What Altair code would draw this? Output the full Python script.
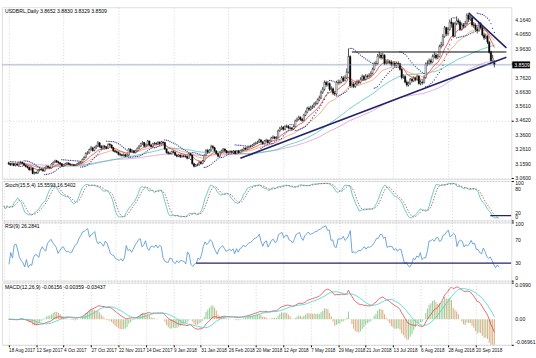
import altair as alt
import pandas as pd
import numpy as np

# ---------------- data ----------------
date_labels = ["18 Aug 2017", "12 Sep 2017", "4 Oct 2017", "27 Oct 2017", "22 Nov 2017",
               "14 Dec 2017", "9 Jan 2018", "31 Jan 2018", "26 Feb 2018", "20 Mar 2018",
               "12 Apr 2018", "7 May 2018", "29 May 2018", "21 Jun 2018", "13 Jul 2018",
               "6 Aug 2018", "28 Aug 2018", "20 Sep 2018"]
date_ticks = [0, 16, 32, 48, 64, 80, 96, 112, 128, 144, 160, 176, 192, 208, 224, 240, 256, 272]

open_ = [
 3.165, 3.160, 3.152, 3.160, 3.148, 3.157, 3.150, 3.168, 3.170, 3.162,
 3.148, 3.140, 3.134, 3.118, 3.130, 3.092, 3.098, 3.094, 3.112, 3.120,
 3.118, 3.110, 3.130, 3.142, 3.134, 3.130, 3.158, 3.170, 3.180, 3.172,
 3.166, 3.160, 3.142, 3.150, 3.160, 3.164, 3.156, 3.150, 3.152, 3.148,
 3.150, 3.160, 3.168, 3.172, 3.190, 3.204, 3.232, 3.236, 3.258, 3.270,
 3.252, 3.272, 3.282, 3.306, 3.280, 3.270, 3.282, 3.276, 3.268, 3.296,
 3.290, 3.272, 3.250, 3.244, 3.240, 3.226, 3.222, 3.218, 3.222, 3.212,
 3.220, 3.262, 3.244, 3.250, 3.238, 3.250, 3.268, 3.282, 3.300, 3.308,
 3.282, 3.292, 3.318, 3.290, 3.280, 3.300, 3.302, 3.298, 3.310, 3.300,
 3.312, 3.308, 3.262, 3.238, 3.232, 3.230, 3.244, 3.240, 3.220, 3.212,
 3.220, 3.208, 3.214, 3.212, 3.210, 3.198, 3.230, 3.220, 3.160, 3.142,
 3.150, 3.152, 3.170, 3.162, 3.178, 3.218, 3.252, 3.240, 3.254, 3.280,
 3.272, 3.248, 3.230, 3.212, 3.240, 3.250, 3.262, 3.250, 3.236, 3.240,
 3.246, 3.240, 3.248, 3.230, 3.250, 3.236, 3.252, 3.256, 3.268, 3.262,
 3.272, 3.280, 3.282, 3.290, 3.300, 3.304, 3.310, 3.326, 3.312, 3.300,
 3.318, 3.324, 3.308, 3.320, 3.340, 3.346, 3.338, 3.342, 3.390, 3.404,
 3.414, 3.400, 3.420, 3.422, 3.410, 3.408, 3.402, 3.420, 3.460, 3.470,
 3.484, 3.470, 3.462, 3.500, 3.520, 3.548, 3.540, 3.552, 3.560, 3.578,
 3.582, 3.606, 3.620, 3.660, 3.680, 3.728, 3.712, 3.720, 3.680, 3.684,
 3.652, 3.648, 3.728, 3.728, 3.730, 3.760, 3.742, 3.760, 3.800, 3.910,
 3.704, 3.716, 3.700, 3.718, 3.730, 3.728, 3.748, 3.770, 3.750, 3.772,
 3.770, 3.778, 3.792, 3.820, 3.860, 3.860, 3.912, 3.920, 3.902, 3.918,
 3.862, 3.870, 3.872, 3.870, 3.852, 3.862, 3.848, 3.860, 3.858, 3.820,
 3.762, 3.770, 3.730, 3.710, 3.722, 3.750, 3.740, 3.758, 3.748, 3.772,
 3.720, 3.730, 3.728, 3.762, 3.858, 3.862, 3.880, 3.870, 3.910, 3.920,
 3.900, 3.910, 3.980, 3.990, 4.050, 4.110, 4.068, 4.100, 4.150, 4.140,
 4.052, 4.140, 4.160, 4.150, 4.100, 4.130, 4.122, 4.140, 4.198, 4.170,
 4.180, 4.130, 4.128, 4.100, 4.090, 4.140, 4.110, 4.060, 4.040, 4.050,
 4.010, 3.940, 3.880, 3.865]

high = [
 3.174, 3.166, 3.168, 3.166, 3.163, 3.165, 3.176, 3.180, 3.176, 3.168,
 3.154, 3.147, 3.140, 3.136, 3.132, 3.106, 3.104, 3.118, 3.128, 3.127,
 3.124, 3.136, 3.149, 3.150, 3.140, 3.163, 3.176, 3.188, 3.186, 3.180,
 3.172, 3.165, 3.158, 3.166, 3.172, 3.170, 3.162, 3.160, 3.158, 3.156,
 3.166, 3.175, 3.180, 3.196, 3.212, 3.240, 3.248, 3.266, 3.284, 3.278,
 3.280, 3.292, 3.318, 3.310, 3.290, 3.292, 3.290, 3.284, 3.302, 3.304,
 3.296, 3.278, 3.258, 3.252, 3.246, 3.236, 3.230, 3.232, 3.228, 3.228,
 3.270, 3.266, 3.260, 3.256, 3.258, 3.274, 3.290, 3.306, 3.318, 3.312,
 3.300, 3.326, 3.322, 3.298, 3.306, 3.312, 3.310, 3.318, 3.316, 3.320,
 3.318, 3.312, 3.268, 3.248, 3.244, 3.252, 3.254, 3.246, 3.228, 3.228,
 3.226, 3.222, 3.222, 3.220, 3.216, 3.236, 3.238, 3.224, 3.166, 3.158,
 3.162, 3.178, 3.176, 3.186, 3.226, 3.262, 3.264, 3.262, 3.292, 3.290,
 3.278, 3.256, 3.236, 3.246, 3.258, 3.270, 3.268, 3.256, 3.248, 3.254,
 3.252, 3.256, 3.254, 3.256, 3.256, 3.258, 3.264, 3.276, 3.274, 3.280,
 3.288, 3.292, 3.298, 3.308, 3.314, 3.320, 3.336, 3.332, 3.318, 3.326,
 3.334, 3.330, 3.328, 3.348, 3.358, 3.354, 3.352, 3.398, 3.418, 3.426,
 3.422, 3.430, 3.434, 3.430, 3.420, 3.418, 3.428, 3.468, 3.482, 3.496,
 3.492, 3.480, 3.508, 3.532, 3.558, 3.560, 3.566, 3.572, 3.590, 3.598,
 3.616, 3.636, 3.672, 3.696, 3.742, 3.740, 3.738, 3.728, 3.702, 3.694,
 3.668, 3.740, 3.748, 3.745, 3.774, 3.772, 3.778, 3.826, 3.966, 3.918,
 3.740, 3.730, 3.734, 3.748, 3.746, 3.764, 3.784, 3.780, 3.786, 3.784,
 3.792, 3.806, 3.832, 3.872, 3.880, 3.928, 3.942, 3.934, 3.936, 3.926,
 3.888, 3.892, 3.886, 3.884, 3.876, 3.878, 3.874, 3.876, 3.866, 3.828,
 3.786, 3.778, 3.742, 3.734, 3.760, 3.762, 3.770, 3.768, 3.784, 3.780,
 3.744, 3.742, 3.776, 3.868, 3.882, 3.896, 3.894, 3.924, 3.940, 3.932,
 3.926, 3.992, 4.012, 4.066, 4.124, 4.118, 4.116, 4.168, 4.180, 4.152,
 4.152, 4.190, 4.176, 4.162, 4.146, 4.144, 4.158, 4.212, 4.206, 4.196,
 4.188, 4.150, 4.142, 4.118, 4.152, 4.150, 4.120, 4.076, 4.070, 4.062,
 4.020, 3.950, 3.922, 3.883]

low = [
 3.152, 3.145, 3.146, 3.142, 3.141, 3.144, 3.146, 3.160, 3.156, 3.142,
 3.133, 3.126, 3.110, 3.112, 3.086, 3.084, 3.088, 3.090, 3.106, 3.111,
 3.104, 3.104, 3.124, 3.127, 3.122, 3.126, 3.152, 3.164, 3.164, 3.158,
 3.152, 3.136, 3.138, 3.144, 3.152, 3.148, 3.143, 3.144, 3.141, 3.142,
 3.145, 3.154, 3.160, 3.168, 3.184, 3.198, 3.222, 3.230, 3.250, 3.244,
 3.246, 3.262, 3.276, 3.272, 3.262, 3.264, 3.266, 3.260, 3.262, 3.280,
 3.264, 3.242, 3.236, 3.232, 3.218, 3.212, 3.210, 3.210, 3.204, 3.206,
 3.214, 3.238, 3.236, 3.230, 3.232, 3.244, 3.260, 3.276, 3.292, 3.274,
 3.276, 3.286, 3.282, 3.272, 3.274, 3.292, 3.290, 3.292, 3.294, 3.296,
 3.300, 3.256, 3.230, 3.222, 3.222, 3.224, 3.232, 3.214, 3.204, 3.206,
 3.200, 3.202, 3.204, 3.202, 3.190, 3.194, 3.212, 3.152, 3.134, 3.136,
 3.142, 3.146, 3.154, 3.156, 3.172, 3.212, 3.228, 3.232, 3.246, 3.260,
 3.240, 3.222, 3.204, 3.206, 3.232, 3.244, 3.242, 3.228, 3.230, 3.234,
 3.232, 3.234, 3.222, 3.224, 3.228, 3.230, 3.246, 3.250, 3.254, 3.256,
 3.266, 3.272, 3.276, 3.284, 3.292, 3.298, 3.304, 3.302, 3.292, 3.294,
 3.310, 3.300, 3.302, 3.314, 3.332, 3.330, 3.330, 3.336, 3.382, 3.396,
 3.390, 3.394, 3.410, 3.400, 3.398, 3.392, 3.396, 3.414, 3.452, 3.462,
 3.460, 3.452, 3.456, 3.492, 3.512, 3.528, 3.530, 3.542, 3.550, 3.566,
 3.574, 3.596, 3.612, 3.648, 3.670, 3.698, 3.700, 3.668, 3.664, 3.640,
 3.634, 3.640, 3.712, 3.714, 3.722, 3.730, 3.734, 3.752, 3.792, 3.690,
 3.692, 3.688, 3.690, 3.706, 3.714, 3.720, 3.738, 3.738, 3.742, 3.756,
 3.760, 3.768, 3.784, 3.812, 3.842, 3.852, 3.896, 3.888, 3.890, 3.850,
 3.852, 3.856, 3.856, 3.840, 3.842, 3.834, 3.840, 3.844, 3.810, 3.750,
 3.754, 3.722, 3.698, 3.700, 3.712, 3.728, 3.730, 3.736, 3.740, 3.712,
 3.708, 3.712, 3.720, 3.754, 3.842, 3.850, 3.856, 3.862, 3.896, 3.888,
 3.890, 3.904, 3.966, 3.980, 4.040, 4.052, 4.056, 4.090, 4.112, 4.040,
 4.046, 4.128, 4.132, 4.088, 4.090, 4.106, 4.110, 4.132, 4.150, 4.158,
 4.118, 4.110, 4.086, 4.070, 4.082, 4.098, 4.050, 4.026, 4.030, 3.996,
 3.930, 3.866, 3.872, 3.833]

close = [
 3.160, 3.152, 3.160, 3.148, 3.157, 3.150, 3.168, 3.170, 3.162, 3.148,
 3.140, 3.134, 3.118, 3.130, 3.092, 3.098, 3.094, 3.112, 3.120, 3.118,
 3.110, 3.130, 3.142, 3.134, 3.130, 3.158, 3.170, 3.180, 3.172, 3.166,
 3.160, 3.142, 3.150, 3.160, 3.164, 3.156, 3.150, 3.152, 3.148, 3.150,
 3.160, 3.168, 3.172, 3.190, 3.204, 3.232, 3.236, 3.258, 3.270, 3.252,
 3.272, 3.282, 3.306, 3.280, 3.270, 3.282, 3.276, 3.268, 3.296, 3.290,
 3.272, 3.250, 3.244, 3.240, 3.226, 3.222, 3.218, 3.222, 3.212, 3.220,
 3.262, 3.244, 3.250, 3.238, 3.250, 3.268, 3.282, 3.300, 3.308, 3.282,
 3.292, 3.318, 3.290, 3.280, 3.300, 3.302, 3.298, 3.310, 3.300, 3.312,
 3.308, 3.262, 3.238, 3.232, 3.230, 3.244, 3.240, 3.220, 3.212, 3.220,
 3.208, 3.214, 3.212, 3.210, 3.198, 3.230, 3.220, 3.160, 3.142, 3.150,
 3.152, 3.170, 3.162, 3.178, 3.218, 3.252, 3.240, 3.254, 3.280, 3.272,
 3.248, 3.230, 3.212, 3.240, 3.250, 3.262, 3.250, 3.236, 3.240, 3.246,
 3.240, 3.248, 3.230, 3.250, 3.236, 3.252, 3.256, 3.268, 3.262, 3.272,
 3.280, 3.282, 3.290, 3.300, 3.304, 3.310, 3.326, 3.312, 3.300, 3.318,
 3.324, 3.308, 3.320, 3.340, 3.346, 3.338, 3.342, 3.390, 3.404, 3.414,
 3.400, 3.420, 3.422, 3.410, 3.408, 3.402, 3.420, 3.460, 3.470, 3.484,
 3.470, 3.462, 3.500, 3.520, 3.548, 3.540, 3.552, 3.560, 3.578, 3.582,
 3.606, 3.620, 3.660, 3.680, 3.728, 3.712, 3.720, 3.680, 3.684, 3.652,
 3.648, 3.728, 3.728, 3.730, 3.760, 3.742, 3.760, 3.800, 3.910, 3.704,
 3.716, 3.700, 3.718, 3.730, 3.728, 3.748, 3.770, 3.750, 3.772, 3.770,
 3.778, 3.792, 3.820, 3.860, 3.860, 3.912, 3.920, 3.902, 3.918, 3.862,
 3.870, 3.872, 3.870, 3.852, 3.862, 3.848, 3.860, 3.858, 3.820, 3.762,
 3.770, 3.730, 3.710, 3.722, 3.750, 3.740, 3.758, 3.748, 3.772, 3.720,
 3.730, 3.728, 3.762, 3.858, 3.862, 3.880, 3.870, 3.910, 3.920, 3.900,
 3.910, 3.980, 3.990, 4.050, 4.110, 4.068, 4.100, 4.150, 4.140, 4.052,
 4.140, 4.160, 4.150, 4.100, 4.130, 4.122, 4.140, 4.198, 4.170, 4.180,
 4.130, 4.128, 4.100, 4.090, 4.140, 4.110, 4.060, 4.040, 4.050, 4.010,
 3.940, 3.880, 3.900, 3.851]

price_ticks = [4.164, 4.065, 3.963, 3.8625, 3.762, 3.663, 3.561, 3.462, 3.360, 3.261, 3.159, 3.060]
price_labels = ["4.1640", "4.0650", "3.9630", "", "3.7620", "3.6630", "3.5610", "3.4620",
                "3.3600", "3.2610", "3.1590", "3.0600"]
stoch_ticks = [100, 80, 20, 0]
rsi_ticks = [100, 70, 30, 0]
macd_ticks = [0.0990, 0.0, -0.06961]
macd_labels = ["0.0990", "0.00", "-0.06961"]
last_price = 3.8509
last_label = "3.8509"

# hand-drawn objects (bar index, value)
up_trend_i = [135, 290]
up_trend_p = [3.198, 3.905]
down_trend_i = [268, 290]
down_trend_p = [4.215, 3.97]
resist_i = [200, 290]
resist_p = [3.941, 3.941]
rsi_level_i = [110, 290]
rsi_level_v = [30, 30]
stoch_line_i = [278, 290]
stoch_line_v = [12, 12]

title_main = "USDBRL,Daily  3.8652 3.8830 3.8329 3.8509"
title_stoch = "Stoch(15,5,4) 15.5593 16.5402"
title_rsi = "RSI(9) 26.2841"
title_macd = "MACD(12,26,9) -0.06156 -0.00359 -0.03437"

# ---------------- indicators computed from the prices ----------------
n = len(close)
df = pd.DataFrame({"i": np.arange(n), "open": open_, "high": high, "low": low, "close": close})
df["high"] = df[["high", "open", "close"]].max(axis=1)
df["low"] = df[["low", "open", "close"]].min(axis=1)
df["up"] = df["close"] >= df["open"]

df["ma_red"] = df["close"].ewm(span=10, adjust=False).mean()
df["ma_org"] = df["close"].ewm(span=21, adjust=False).mean()
df["ma_teal"] = df["close"].rolling(50, min_periods=1).mean()
df["ma_pink"] = df["close"].ewm(span=100, adjust=False).mean()


def psar(h, l, step=0.02, mx=0.2):
    out = [np.nan] * len(h)
    up = True
    af = step
    ep = h[0]
    s = l[0]
    for t in range(1, len(h)):
        s = s + af * (ep - s)
        if up:
            s = min(s, l[t - 1], l[t - 2] if t > 1 else l[t - 1])
            if l[t] < s:
                up, s, ep, af = False, ep, l[t], step
            elif h[t] > ep:
                ep, af = h[t], min(af + step, mx)
        else:
            s = max(s, h[t - 1], h[t - 2] if t > 1 else h[t - 1])
            if h[t] > s:
                up, s, ep, af = True, ep, h[t], step
            elif l[t] < ep:
                ep, af = l[t], min(af + step, mx)
        out[t] = s
    return out


df["sar"] = psar(list(df["high"]), list(df["low"]))

ll = df["low"].rolling(15, min_periods=1).min()
hh = df["high"].rolling(15, min_periods=1).max()
num = (df["close"] - ll).rolling(5, min_periods=1).sum()
den = (hh - ll).rolling(5, min_periods=1).sum()
df["stk"] = 100 * num / den
df["std"] = df["stk"].rolling(4, min_periods=1).mean()

d = df["close"].diff()
ag = d.clip(lower=0).ewm(alpha=1 / 9, adjust=True, min_periods=3).mean()
al = (-d.clip(upper=0)).ewm(alpha=1 / 9, adjust=True, min_periods=3).mean()
df["rsi"] = 100 - 100 / (1 + ag / al.replace(0, np.nan))

df["macd"] = df["close"].ewm(span=12, adjust=False).mean() - df["close"].ewm(span=26, adjust=False).mean()
df["sig"] = df["macd"].rolling(9, min_periods=1).mean()
df["hist"] = 2 * (df["macd"] - df["sig"])
df["hup"] = df["hist"].diff().fillna(0) >= 0

lines_df = pd.DataFrame({
    "x0": [up_trend_i[0], down_trend_i[0]], "x1": [up_trend_i[1], down_trend_i[1]],
    "y0": [up_trend_p[0], down_trend_p[0]], "y1": [up_trend_p[1], down_trend_p[1]]})
res_df = pd.DataFrame({"x0": [resist_i[0]], "x1": [resist_i[1]], "y0": [resist_p[0]]})
rsi_lv_df = pd.DataFrame({"x0": [rsi_level_i[0]], "x1": [rsi_level_i[1]], "y0": [rsi_level_v[0]]})
st_lv_df = pd.DataFrame({"x0": [stoch_line_i[0]], "x1": [stoch_line_i[1]], "y0": [stoch_line_v[0]]})
last_df = pd.DataFrame({"p": [last_price], "t": [last_label]})

# ---------------- chart ----------------
W = 516
FONT = "Liberation Sans"
FS = 5.2
GRID = "#c4c4c4"
NAVY = "#23236e"
xscale = alt.Scale(domain=[-1, 290], nice=False, zero=False)
date_expr = "[" + ",".join("'%s'" % s for s in date_labels) + "][round(datum.value/16)]"


def xax(show):
    if show:
        return alt.Axis(values=date_ticks, grid=True, gridDash=[1, 2], gridColor=GRID, gridWidth=0.7,
                        labels=True, ticks=True, tickSize=2, tickColor="#000", domain=False, title=None,
                        labelExpr=date_expr, labelAlign="left", labelPadding=1, labelFontSize=4.7,
                        labelFont=FONT, labelColor="#111", labelFlush=False, labelOverlap=False)
    return alt.Axis(values=date_ticks, grid=True, gridDash=[1, 2], gridColor=GRID, gridWidth=0.7,
                    labels=False, ticks=False, domain=False, title=None, minExtent=0, maxExtent=0,
                    labelPadding=0)


def X(show=False):
    return alt.X("i:Q", scale=xscale, axis=xax(show))


def yax(values):
    return alt.Axis(values=values, orient="right", grid=True, gridDash=[1, 2], gridColor=GRID,
                    gridWidth=0.7, ticks=True, tickSize=2, tickColor="#000", domain=False, title=None,
                    labels=False, minExtent=0, maxExtent=2)


def title_text(txt):
    return alt.Chart(pd.DataFrame({"t": [txt]})).mark_text(
        align="left", baseline="top", fontSize=FS, font=FONT, color="#000"
    ).encode(x=alt.value(3), y=alt.value(2), text="t:N")


def axis_labels(vals, labs, scale, edge=True):
    lab = pd.DataFrame({"v": vals, "t": labs})
    lab["pos"] = "mid"
    if edge:
        lab.loc[lab["v"] == max(vals), "pos"] = "top"
        lab.loc[lab["v"] == min(vals), "pos"] = "bot"
    layers = []
    for pos, bl in [("mid", "middle"), ("top", "top"), ("bot", "bottom")]:
        sub = lab[lab["pos"] == pos]
        if len(sub):
            layers.append(alt.Chart(sub).mark_text(
                align="left", baseline=bl, fontSize=FS, font=FONT, color="#111"
            ).encode(x=alt.value(W + 4), y=alt.Y("v:Q", scale=scale), text="t:N"))
    return layers


def hline(data, scale, color, width):
    return alt.Chart(data).mark_rule(color=color, strokeWidth=width, clip=True).encode(
        x=alt.X("x0:Q", scale=xscale), x2="x1:Q", y=alt.Y("y0:Q", scale=scale))


base = alt.Chart(df)

# price panel
py = alt.Scale(domain=[3.053, 4.254], nice=False, zero=False)
wick = base.mark_rule(color="#000", strokeWidth=0.7, clip=True).encode(
    x=X(), y=alt.Y("low:Q", scale=py, axis=yax(price_ticks)), y2="high:Q")
body = base.mark_bar(size=1.4, stroke="#000", strokeWidth=0.4, clip=True).encode(
    x=X(), y=alt.Y("open:Q", scale=py), y2="close:Q",
    fill=alt.condition("datum.up", alt.value("#ffffff"), alt.value("#000000")))


def ma(col, color):
    return base.mark_line(strokeWidth=0.8, color=color, clip=True).encode(
        x=X(), y=alt.Y(col + ":Q", scale=py))


sar = base.mark_circle(size=1.6, color="#3a3a9a", opacity=1, clip=True).encode(
    x=X(), y=alt.Y("sar:Q", scale=py))
trend = alt.Chart(lines_df).mark_rule(color=NAVY, strokeWidth=1.6, clip=True).encode(
    x=alt.X("x0:Q", scale=xscale), x2="x1:Q", y=alt.Y("y0:Q", scale=py), y2="y1:Q")
lastline = alt.Chart(last_df).mark_rule(color="#8195c2", strokeWidth=0.7).encode(
    y=alt.Y("p:Q", scale=py), x=alt.value(0), x2=alt.value(W))
lastbox = alt.Chart(last_df).mark_rect(color="#000", height=7).encode(
    y=alt.Y("p:Q", scale=py), x=alt.value(W + 1), x2=alt.value(W + 19))
lasttext = alt.Chart(last_df).mark_text(color="#fff", fontSize=FS, font=FONT, align="left", baseline="middle").encode(
    y=alt.Y("p:Q", scale=py), x=alt.value(W + 3), text="t:N")

price = alt.layer(
    wick, ma("ma_pink", "#d99ac8"), ma("ma_teal", "#4fc4c4"), ma("ma_org", "#e6a36a"),
    ma("ma_red", "#e03c3c"), body, sar, hline(res_df, py, "#000", 1), trend, lastline,
    *axis_labels(price_ticks, price_labels, py, edge=False),
    lastbox, lasttext, title_text(title_main)
).properties(width=W, height=174)

# stochastic panel
sy = alt.Scale(domain=[0, 100], nice=False)
stoch = alt.layer(
    base.mark_line(color="#48c0b8", strokeWidth=0.8, clip=True).encode(
        x=X(), y=alt.Y("stk:Q", scale=sy, axis=yax(stoch_ticks))),
    base.mark_line(color="#a05050", strokeWidth=0.8, strokeDash=[1.5, 1.5], clip=True).encode(
        x=X(), y=alt.Y("std:Q", scale=sy)),
    hline(st_lv_df, sy, NAVY, 1.3),
    *axis_labels(stoch_ticks, [str(v) for v in stoch_ticks], sy),
    title_text(title_stoch)
).properties(width=W, height=40)

# RSI panel
ry = alt.Scale(domain=[0, 100], nice=False)
rsi = alt.layer(
    base.mark_line(color="#4a8fd6", strokeWidth=0.8, clip=True).encode(
        x=X(), y=alt.Y("rsi:Q", scale=ry, axis=yax(rsi_ticks))),
    hline(rsi_lv_df, ry, NAVY, 1.3),
    *axis_labels(rsi_ticks, [str(v) for v in rsi_ticks], ry),
    title_text(title_rsi)
).properties(width=W, height=59)

# MACD panel
my = alt.Scale(domain=[-0.06961, 0.0990], nice=False, zero=False)
macd = alt.layer(
    base.mark_bar(size=1.1, clip=True).encode(
        x=X(True), y=alt.Y("hist:Q", scale=my, axis=yax(macd_ticks)),
        y2=alt.datum(0),
        color=alt.condition("datum.hup", alt.value("#9ccf9c"), alt.value("#d9b48a"))),
    base.mark_line(color="#e04848", strokeWidth=0.8, clip=True).encode(x=X(True), y=alt.Y("macd:Q", scale=my)),
    base.mark_line(color="#40d0d0", strokeWidth=0.8, clip=True).encode(x=X(True), y=alt.Y("sig:Q", scale=my)),
    *axis_labels(macd_ticks, macd_labels, my),
    title_text(title_macd)
).properties(width=W, height=63)

chart = alt.vconcat(price, stoch, rsi, macd, spacing=2, bounds="flush").properties(
    padding={"left": 1, "top": 4, "right": 0, "bottom": 0}
).configure_view(stroke="#000", strokeWidth=1).configure(background="#ffffff")

chart.save("out.html", embed_options={"renderer": "svg", "actions": False})
